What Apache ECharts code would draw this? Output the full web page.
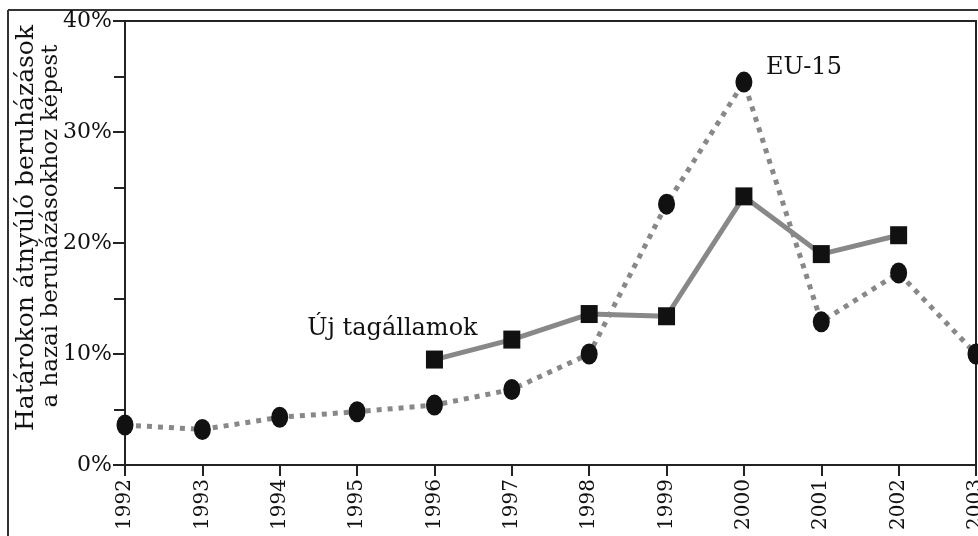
<!DOCTYPE html>
<html><head><meta charset="utf-8">
<script src="https://cdn.jsdelivr.net/npm/echarts@6/dist/echarts.min.js"></script>
<style>html,body{margin:0;padding:0;background:#fff}#c{width:978px;height:536px}</style>
</head><body><div id="c"></div>
<script>
const years = ['1992','1993','1994','1995','1996','1997','1998','1999','2000','2001','2002','2003'];
const eu15 = [3.6, 3.2, 4.3, 4.8, 5.4, 6.8, 10.0, 23.5, 34.5, 12.9, 17.3, 10.0];
const ujTagallamok = [null, null, null, null, 9.5, 11.3, 13.6, 13.4, 24.2, 19.0, 20.7, null];
const yTicks = [0, 10, 20, 30, 40];
const seriesNames = ['EU-15', 'Új tagállamok'];
const yTitleLines = ['Határokon átnyúló beruházások', 'a hazai beruházásokhoz képest'];

const font = '"DejaVu Serif", "Liberation Serif", serif';
const chart = echarts.init(document.getElementById('c'));
chart.setOption({
  animation: false,
  backgroundColor: '#fff',
  graphic: [
    {type: 'line', shape: {x1: 8, y1: 10, x2: 978, y2: 10}, style: {stroke: '#333', lineWidth: 2}},
    {type: 'line', shape: {x1: 8, y1: 10, x2: 8, y2: 536}, style: {stroke: '#333', lineWidth: 2}},
    {type: 'text', x: 26, y: 228, rotation: Math.PI / 2,
     style: {text: yTitleLines[0], font: '25px ' + font, fill: '#111', textAlign: 'center', textVerticalAlign: 'middle'}},
    {type: 'text', x: 51, y: 226, rotation: Math.PI / 2,
     style: {text: yTitleLines[1], font: '23px ' + font, fill: '#111', textAlign: 'center', textVerticalAlign: 'middle'}}
  ],
  grid: {left: 125, top: 21, right: 2, bottom: 71, show: true, borderColor: '#222', borderWidth: 2, containLabel: false, outerBoundsMode: 'none'},
  xAxis: {
    type: 'category', data: years, boundaryGap: false,
    axisLine: {lineStyle: {color: '#222', width: 2}},
    axisTick: {show: true, length: 11, alignWithLabel: true, lineStyle: {color: '#222', width: 2}},
    axisLabel: {rotate: 90, fontFamily: font, fontSize: 20, color: '#111', margin: 14}
  },
  yAxis: {
    type: 'value', min: yTicks[0], max: yTicks[yTicks.length-1], interval: 10,
    axisLine: {show: true, lineStyle: {color: '#222', width: 2}},
    axisTick: {show: true, length: 12, lineStyle: {color: '#222', width: 2}},
    minorTick: {show: true, splitNumber: 2, length: 11, lineStyle: {color: '#222', width: 2}},
    splitLine: {show: false},
    axisLabel: {formatter: '{value}%', fontFamily: font, fontSize: 22, color: '#111', margin: 13}
  },
  series: [
    {
      name: seriesNames[0], type: 'line', data: eu15,
      symbol: 'circle', symbolSize: [17, 21],
      lineStyle: {color: '#888', width: 5, type: [5, 6]},
      itemStyle: {color: '#111'}, z: 3,
      markPoint: {
        symbol: 'circle', symbolSize: 1, itemStyle: {color: 'rgba(0,0,0,0)'},
        data: [{coord: [8, 34.5], label: {show: true, position: 'inside', formatter: 'EU-15', fontFamily: font, fontSize: 24, color: '#111', offset: [60, -14]}}]
      }
    },
    {
      name: seriesNames[1], type: 'line', data: ujTagallamok,
      symbol: 'rect', symbolSize: [17, 18],
      lineStyle: {color: '#888', width: 5},
      itemStyle: {color: '#111'}, z: 4,
      markPoint: {
        symbol: 'circle', symbolSize: 1, itemStyle: {color: 'rgba(0,0,0,0)'},
        data: [{coord: [4, 9.5], label: {show: true, position: 'inside', formatter: 'Új tagállamok', fontFamily: font, fontSize: 24, color: '#111', offset: [-42, -31]}}]
      }
    }
  ]
});
</script></body></html>
